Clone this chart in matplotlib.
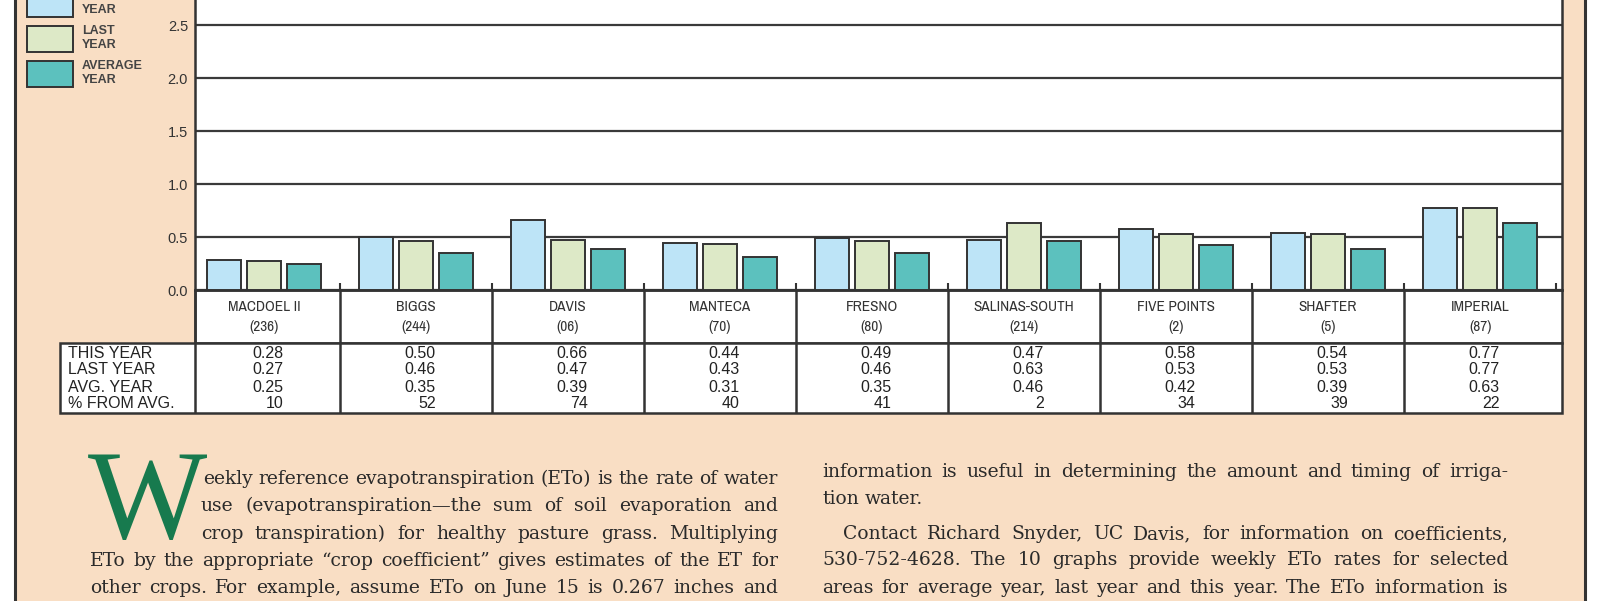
import numpy as np
import matplotlib.pyplot as plt
from matplotlib.patches import Patch, Rectangle
from matplotlib.transforms import blended_transform_factory

# data
stations = ['MACDOEL II', 'BIGGS', 'DAVIS', 'MANTECA', 'FRESNO',
            'SALINAS-SOUTH', 'FIVE POINTS', 'SHAFTER', 'IMPERIAL']
codes = ['236', '244', '06', '70', '80', '214', '2', '5', '87']
this_year = [0.28, 0.50, 0.66, 0.44, 0.49, 0.47, 0.58, 0.54, 0.77]
last_year = [0.27, 0.46, 0.47, 0.43, 0.46, 0.63, 0.53, 0.53, 0.77]
avg_year = [0.25, 0.35, 0.39, 0.31, 0.35, 0.46, 0.42, 0.39, 0.63]
pct_from_avg = [10, 52, 74, 40, 41, 2, 34, 39, 22]
yticks = [0.0, 0.5, 1.0, 1.5, 2.0, 2.5]
series_names = ['THIS\nYEAR', 'LAST\nYEAR', 'AVERAGE\nYEAR']
row_names = ['THIS YEAR', 'LAST YEAR', 'AVG. YEAR', '% FROM AVG.']

left_col = ['eekly reference evapotranspiration (ETo) is the rate of water',
            'use (evapotranspiration\u2014the sum of soil evaporation and',
            'crop transpiration) for healthy pasture grass. Multiplying',
            'ETo by the appropriate \u201ccrop coefficient\u201d gives estimates of the ET for',
            'other crops. For example, assume ETo on June 15 is 0.267 inches and']
right_col = ['information is useful in determining the amount and timing of irriga-',
             'tion water.',
             'Contact Richard Snyder, UC Davis, for information on coefficients,',
             '530-752-4628. The 10 graphs provide weekly ETo rates for selected',
             'areas for average year, last year and this year. The ETo information is']

peach = '#f9dec4'
dark = '#333333'
colors = ['#bde4f7', '#dde9c7', '#5cc1be']
green = '#177a4e'
narrow = ['Archivo Narrow', 'Liberation Sans']

W, H = 1600, 601
fig = plt.figure(figsize=(16, 6.01), dpi=100, facecolor='white')
ov = fig.add_axes([0, 0, 1, 1], zorder=0)
ov.set_xlim(0, W)
ov.set_ylim(H, 0)
ov.axis('off')


def px_box(l, t, r, b):
    return [l / W, 1 - b / H, (r - l) / W, (b - t) / H]


ax = fig.add_axes(px_box(195, 0, 1562, 290), zorder=1)
x = np.arange(len(stations))
off, bw = 0.265, 0.222
for k, vals in enumerate([this_year, last_year, avg_year]):
    ax.bar(x + (k - 1) * off, vals, bw, color=colors[k], edgecolor=dark, lw=1.4, zorder=3)

ax.set_xlim(-0.454, 8.539)
ax.set_ylim(0, 2.736)
ax.set_xticks(x + 0.5)
ax.tick_params(axis='x', direction='in', length=5, width=1.5, color=dark, labelbottom=False)
ax.set_yticks(yticks)
ax.set_yticklabels([f'{t:.1f}' for t in yticks], family='Liberation Sans', fontsize=10.5, color=dark)
ax.tick_params(axis='y', length=0, pad=5)
ax.grid(axis='y', color='#3a3a3a', lw=1.6)
ax.set_axisbelow(True)
ax.spines['top'].set_visible(False)
for s in ['left', 'right', 'bottom']:
    ax.spines[s].set_color(dark)
    ax.spines[s].set_linewidth(1.8)

# page background, label strip and table
ov.add_patch(Rectangle((15, -10), 1570, H + 20, fc=peach, ec=dark, lw=2.2))
ov.add_patch(Rectangle((195, 290), 1367, 53, fc='white', ec=dark, lw=1.8))
ov.add_patch(Rectangle((60, 343), 1502, 70, fc='white', ec=dark, lw=1.8))
tr = blended_transform_factory(ax.transData, ov.transData)
ov.vlines(x[:-1] + 0.5, 290, 413, transform=tr, color=dark, lw=1.8)
ov.vlines(195, 290, 413, color=dark, lw=1.8)

for i in x:
    ov.text(i, 307, stations[i], transform=tr, ha='center', va='center',
            fontsize=11, family=narrow, color=dark)
    ov.text(i, 327, f'({codes[i]})', transform=tr, ha='center', va='center',
            fontsize=11, family=narrow, color=dark)

row_y = [354, 370, 387, 403]
for y, name in zip(row_y, row_names):
    ov.text(68, y, name, ha='left', va='center', fontsize=11.5, family='Liberation Sans', color='#222')
for i in x:
    cells = [f'{this_year[i]:.2f}', f'{last_year[i]:.2f}', f'{avg_year[i]:.2f}', str(pct_from_avg[i])]
    for y, c in zip(row_y, cells):
        ov.text(i + 0.13, y, c, transform=tr, ha='right', va='center',
                fontsize=11.5, family='Liberation Sans', color='#222')

fig.legend(handles=[Patch(fc=c, ec=dark, lw=1.4) for c in colors], labels=series_names,
           loc='upper left', bbox_to_anchor=(27 / W, 1 + 10 / H), frameon=False,
           borderpad=0, borderaxespad=0, handlelength=3.7, handleheight=2.8,
           handletextpad=0.7, labelspacing=0.68,
           prop={'family': 'Liberation Sans', 'size': 9, 'weight': 'bold'}, labelcolor='#444')

# body text, justified by measuring words
renderer = fig.canvas.get_renderer()


def put_line(line, x0, x1, y, justify=True):
    words = line.split()
    texts = [ov.text(x0, y, w, fontsize=13.5, family='DejaVu Serif', color='#2a2a2a',
                     va='baseline', ha='left') for w in words]
    widths = [t.get_window_extent(renderer).width for t in texts]
    space = texts[0].get_fontsize() * 100 / 72 * 0.3
    if justify and len(words) > 1:
        space = (x1 - x0 - sum(widths)) / (len(words) - 1)
    xx = x0
    for t, w in zip(texts, widths):
        t.set_x(xx)
        xx += w + space


ov.text(88, 538, 'W', fontsize=91, family='Liberation Serif', color=green,
        va='baseline', ha='left')
left_x0 = [203, 201, 201, 90, 90]
left_y = [484, 511, 539, 566, 593]
for line, x0, y in zip(left_col, left_x0, left_y):
    put_line(line, x0, 778, y)

right_x0 = [822, 822, 843, 822, 822]
right_y = [477, 504, 539, 565, 593]
for k, (line, x0, y) in enumerate(zip(right_col, right_x0, right_y)):
    put_line(line, x0, 1508, y, justify=(k != 1))

fig.savefig('out.png', dpi=100, facecolor='white')
